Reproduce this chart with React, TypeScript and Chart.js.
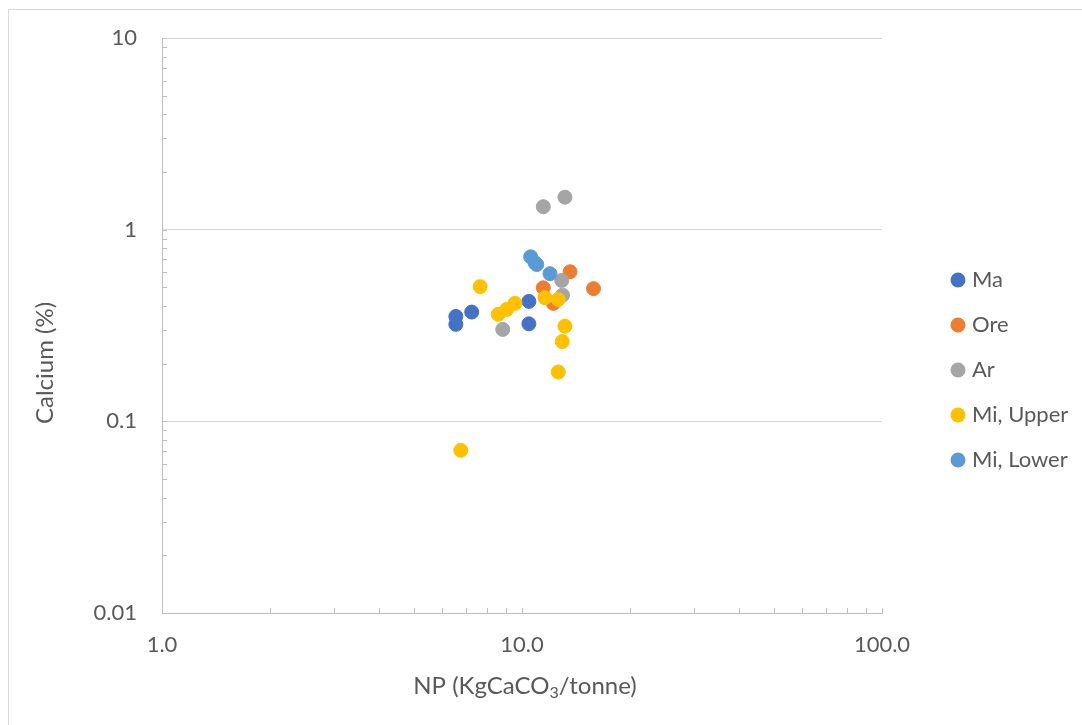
import React, { useEffect, useRef } from "react";
import { Chart, registerables } from "chart.js";

Chart.register(...registerables);

const seriesNames = ["Ma", "Ore", "Ar", "Mi, Upper", "Mi, Lower"];
const seriesColors = ["#4472C4", "#ED7D31", "#A5A5A5", "#FFC000", "#5B9BD5"];

const maX = [6.55, 6.55, 7.25, 10.45, 10.45];
const maY = [0.353, 0.321, 0.372, 0.423, 0.323];
const oreX = [13.6, 15.8, 11.46, 12.22];
const oreY = [0.604, 0.493, 0.498, 0.413];
const arX = [11.46, 13.16, 12.89, 12.96, 8.84];
const arY = [1.32, 1.48, 0.544, 0.456, 0.302];
const upX = [7.65, 8.59, 9.07, 9.56, 11.58, 12.61, 13.16, 12.94, 12.61, 6.76];
const upY = [0.505, 0.362, 0.384, 0.413, 0.442, 0.433, 0.314, 0.261, 0.181, 0.0706];
const loX = [10.57, 10.87, 10.99, 11.96];
const loY = [0.723, 0.673, 0.659, 0.59];

const xTickLabels = ["1.0", "10.0", "100.0"];
const yTickLabels = ["0.01", "0.1", "1", "10"];

const xTitleParts = ["NP (KgCaCO", "3", "/tonne)"];
const yTitle = "Calcium (%)";

const FONT = "Lato, 'Open Sans', sans-serif";
const TEXT = "#595959";
const TICK_SIZE = 22;
const TITLE_SIZE = 24;
const SUB_SIZE = 16;
const LEGEND_SIZE = 22;

function isMajor(v: number) {
  const l = Math.log10(v);
  return Math.abs(l - Math.round(l)) < 1e-6;
}

function pts(xs: number[], ys: number[]) {
  return xs.map((x, i) => ({ x, y: ys[i] }));
}

const decorPlugin = {
  id: "decor",
  beforeDraw(chart: any) {
    const ctx = chart.ctx;
    ctx.save();
    ctx.strokeStyle = "#D9D9D9";
    ctx.lineWidth = 1;
    ctx.strokeRect(8.5, 9.5, 1200, 800);
    ctx.restore();
  },
  afterDraw(chart: any) {
    const ctx = chart.ctx;
    const xs = chart.scales.x;
    const ys = chart.scales.y;
    const area = chart.chartArea;
    ctx.save();
    ctx.strokeStyle = "#BFBFBF";
    ctx.lineWidth = 1;
    // inside tick marks, x axis
    for (let k = 0; k < 2; k++) {
      for (let m = 1; m <= 10; m++) {
        const v = m * Math.pow(10, k);
        if (v < 1 || v > 100) continue;
        const px = Math.round(xs.getPixelForValue(v)) + 0.5;
        ctx.beginPath();
        ctx.moveTo(px, area.bottom);
        ctx.lineTo(px, area.bottom - 5);
        ctx.stroke();
      }
    }
    for (let k = -2; k < 1; k++) {
      for (let m = 1; m <= 10; m++) {
        const v = m * Math.pow(10, k);
        if (v < 0.01 || v > 10) continue;
        const py = Math.round(ys.getPixelForValue(v)) + 0.5;
        ctx.beginPath();
        ctx.moveTo(area.left, py);
        ctx.lineTo(area.left + 5, py);
        ctx.stroke();
      }
    }
    // axis titles
    ctx.fillStyle = TEXT;
    ctx.textBaseline = "middle";
    ctx.font = `${TITLE_SIZE}px ${FONT}`;
    const w0 = ctx.measureText(xTitleParts[0]).width;
    const w2 = ctx.measureText(xTitleParts[2]).width;
    ctx.font = `${SUB_SIZE}px ${FONT}`;
    const w1 = ctx.measureText(xTitleParts[1]).width;
    const total = w0 + w1 + w2;
    const cx = 525;
    let sx = cx - total / 2;
    const ty = 686;
    ctx.textAlign = "left";
    ctx.font = `${TITLE_SIZE}px ${FONT}`;
    ctx.fillText(xTitleParts[0], sx, ty);
    sx += w0;
    ctx.font = `${SUB_SIZE}px ${FONT}`;
    ctx.fillText(xTitleParts[1], sx, ty + 7);
    sx += w1;
    ctx.font = `${TITLE_SIZE}px ${FONT}`;
    ctx.fillText(xTitleParts[2], sx, ty);

    ctx.save();
    ctx.translate(45, 363);
    ctx.rotate(-Math.PI / 2);
    ctx.textAlign = "center";
    ctx.fillText(yTitle, 0, 0);
    ctx.restore();

    // legend
    const legendY0 = 280;
    const legendStep = 45;
    seriesNames.forEach((name, i) => {
      const y = legendY0 + i * legendStep;
      ctx.fillStyle = seriesColors[i];
      ctx.beginPath();
      ctx.arc(958, y, 7.5, 0, Math.PI * 2);
      ctx.fill();
      ctx.fillStyle = TEXT;
      ctx.font = `${LEGEND_SIZE}px ${FONT}`;
      ctx.textAlign = "left";
      ctx.fillText(name, 972, y);
    });
    ctx.restore();
  },
};

export default function App() {
  const ref = useRef<HTMLCanvasElement | null>(null);
  useEffect(() => {
    let chart: any = null;
    let cancelled = false;
    const make = () => {
      if (cancelled || !ref.current) return;
      const xsets = [
        [maX, maY],
        [oreX, oreY],
        [arX, arY],
        [upX, upY],
        [loX, loY],
      ];
      chart = new Chart(ref.current, {
        type: "scatter",
        data: {
          datasets: xsets.map((s, i) => ({
            label: seriesNames[i],
            data: pts(s[0], s[1]),
            backgroundColor: seriesColors[i],
            borderColor: seriesColors[i],
            borderWidth: 1,
            pointRadius: 7,
            pointHoverRadius: 7,
            order: 5 - i,
          })),
        },
        options: {
          animation: false,
          responsive: false,
          devicePixelRatio: 1,
          events: [],
          layout: { padding: { left: 0, top: 38, right: 200, bottom: 0 } },
          plugins: {
            legend: { display: false },
            tooltip: { enabled: false },
            title: { display: false },
          },
          scales: {
            x: {
              type: "logarithmic",
              min: 1,
              max: 100,
              afterFit: (s: any) => {
                s.height = 112;
              },
              grid: { display: true, color: "rgba(0,0,0,0)", drawTicks: false },
              border: { display: true, color: "#BFBFBF", width: 1 },
              ticks: {
                autoSkip: false,
                maxRotation: 0,
                padding: 19,
                color: TEXT,
                font: { family: FONT, size: TICK_SIZE },
                callback: (v: any) => {
                  const n = Number(v);
                  if (!isMajor(n)) return "";
                  const idx = Math.round(Math.log10(n));
                  return xTickLabels[idx] ?? "";
                },
              },
            },
            y: {
              type: "logarithmic",
              min: 0.01,
              max: 10,
              afterFit: (s: any) => {
                s.width = 162;
              },
              grid: {
                display: true,
                drawTicks: false,
                color: (c: any) =>
                  c.tick && isMajor(c.tick.value) ? "#D9D9D9" : "rgba(0,0,0,0)",
              },
              border: { display: true, color: "#BFBFBF", width: 1 },
              ticks: {
                autoSkip: false,
                padding: 25,
                color: TEXT,
                font: { family: FONT, size: TICK_SIZE },
                callback: (v: any) => {
                  const n = Number(v);
                  if (!isMajor(n)) return "";
                  const idx = Math.round(Math.log10(n)) + 2;
                  return yTickLabels[idx] ?? "";
                },
              },
            },
          },
        },
        plugins: [decorPlugin],
      } as any);
    };
    const fontsAny: any = (document as any).fonts;
    if (fontsAny && fontsAny.load) {
      Promise.all([fontsAny.load(`22px Lato`), fontsAny.load(`16px Lato`)])
        .catch(() => null)
        .then(make);
    } else {
      make();
    }
    return () => {
      cancelled = true;
      if (chart) chart.destroy();
    };
  }, []);
  return (
    <div style={{ position: "fixed", left: 0, top: 0, width: 1082, height: 725, background: "#fff" }}>
      <canvas ref={ref} width={1082} height={725} style={{ width: 1082, height: 725, display: "block" }} />
    </div>
  );
}
